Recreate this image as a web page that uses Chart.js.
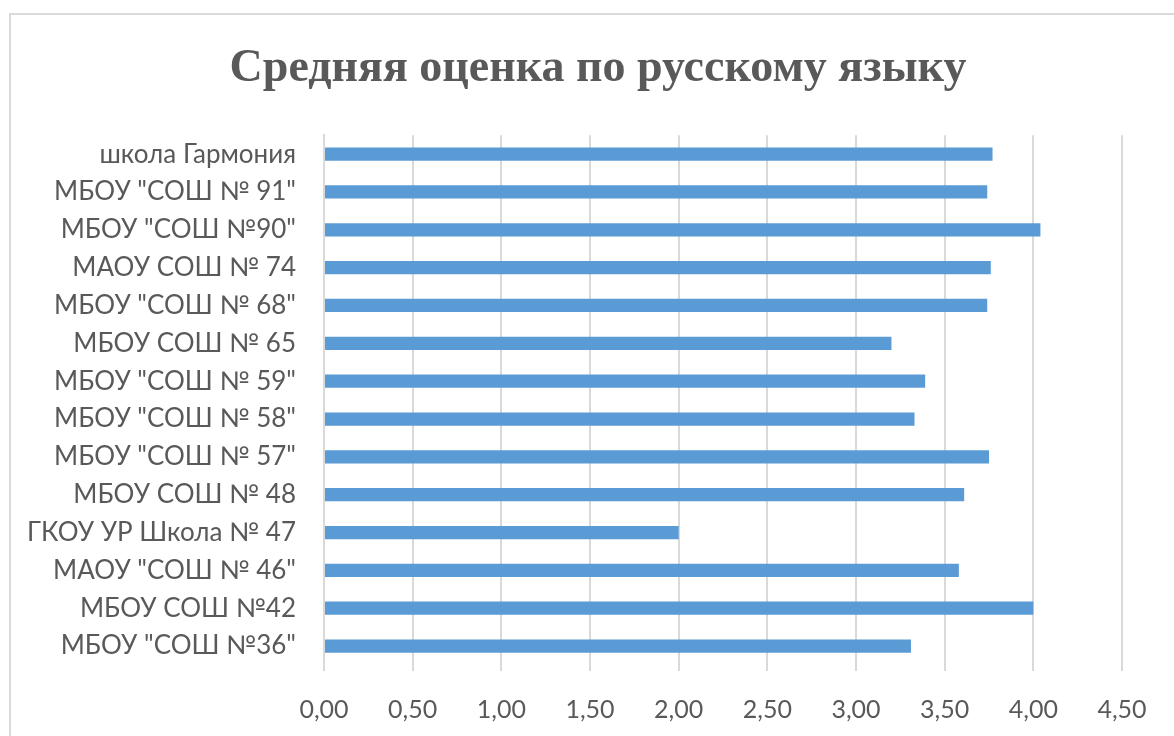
<!DOCTYPE html>
<html>
<head>
<meta charset="utf-8">
<script src="https://cdn.jsdelivr.net/npm/chart.js@4"></script>
<style>
    html, body { margin: 0; padding: 0; background: #fff; overflow: hidden; width: 1174px; height: 736px; }
    .frame { position: absolute; left: 9px; top: 13px; width: 1174px; height: 740px; border: 2px solid #d9d9d9; }
    canvas { position: absolute; left: 0; top: 0; }
</style>
</head>
<body>
<div class="frame"><canvas id="chart" width="1174" height="740"></canvas></div>
<script>
const schools = [
    'школа Гармония',
    'МБОУ "СОШ № 91"',
    'МБОУ "СОШ №90"',
    'МАОУ СОШ № 74',
    'МБОУ "СОШ № 68"',
    'МБОУ СОШ № 65',
    'МБОУ "СОШ № 59"',
    'МБОУ "СОШ № 58"',
    'МБОУ "СОШ № 57"',
    'МБОУ СОШ № 48',
    'ГКОУ УР Школа № 47',
    'МАОУ "СОШ № 46"',
    'МБОУ СОШ №42',
    'МБОУ "СОШ №36"'
];
const avgGrade = [3.77, 3.74, 4.04, 3.76, 3.74, 3.20, 3.39, 3.33, 3.75, 3.61, 2.00, 3.58, 4.00, 3.31];
const xTicks = [0, 0.5, 1, 1.5, 2, 2.5, 3, 3.5, 4, 4.5];
const chartTitle = 'Средняя оценка по русскому языку';

const ctx = document.getElementById('chart').getContext('2d');
const chart = new Chart(ctx, {
    type: 'bar',
    data: {
        labels: schools,
        datasets: [{
            data: avgGrade,
            backgroundColor: '#5b9bd5',
            borderWidth: 0,
            barPercentage: 0.7,
            categoryPercentage: 0.5
        }]
    },
    options: {
        indexAxis: 'y',
        responsive: false,
        animation: false,
        layout: { padding: { left: 0, right: 0, bottom: 20 } },
        plugins: {
            legend: { display: false },
            tooltip: { enabled: false },
            title: {
                display: true,
                text: chartTitle,
                color: '#595959',
                font: { family: 'Liberation Serif', size: 46, weight: 'bold' },
                padding: { top: 27, bottom: 38 }
            }
        },
        scales: {
            x: {
                min: 0,
                max: 4.5,
                afterBuildTicks: axis => { axis.ticks = xTicks.map(v => ({ value: v })); },
                ticks: {
                    color: '#595959',
                    font: { family: 'Lato', size: 25 },
                    padding: 24,
                    callback: v => v.toFixed(2).replace('.', ',')
                },
                grid: { color: '#d9d9d9', lineWidth: 2, tickLength: 6 },
                border: { display: false },
                afterFit: axis => { axis.height = 70; }
            },
            y: {
                ticks: {
                    color: '#595959',
                    font: { family: 'Lato', size: 26 },
                    padding: 20
                },
                grid: { display: false },
                border: { display: true, color: '#d9d9d9', width: 2 },
                afterFit: axis => { axis.width = 313; }
            },
            // empty right-hand gutter so the plot ends at 4,50 like the original
            gutter: {
                type: 'linear',
                position: 'right',
                grid: { display: false },
                border: { display: false },
                ticks: { display: false },
                afterFit: axis => { axis.width = 63; }
            }
        }
    }
});
</script>
</body>
</html>
